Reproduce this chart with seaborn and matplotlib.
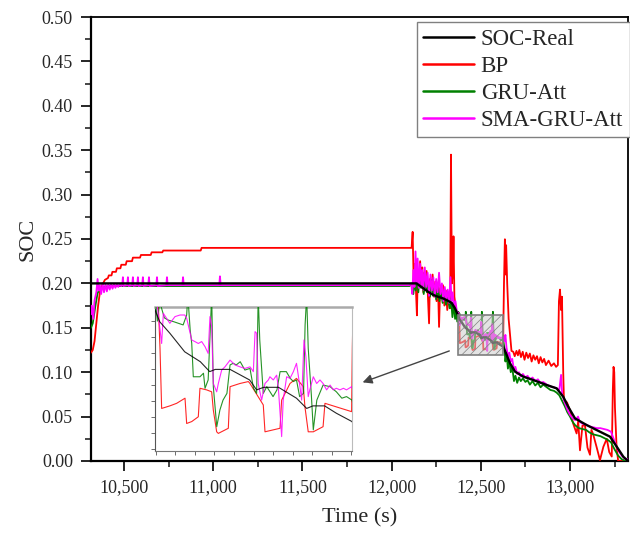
import matplotlib
matplotlib.use("Agg")
import matplotlib.pyplot as plt
from matplotlib.patches import Rectangle
from matplotlib.ticker import MultipleLocator, FuncFormatter
import seaborn as sns

# SOC-Real
real_t = [10315, 12140, 12160, 12178, 12205, 12234, 12260, 12290, 12315, 12337, 12355,
          12374, 12380, 12393, 12412, 12432, 12444, 12451, 12470, 12495, 12504, 12513,
          12532, 12555, 12568, 12576, 12591, 12606, 12626, 12640, 12664, 12692, 12738,
          12794, 12869, 12925, 12962, 12990, 13028, 13093, 13168, 13224, 13262, 13299, 13325]
real_soc = [0.200, 0.200, 0.197, 0.1945, 0.1905, 0.187, 0.185, 0.183, 0.1805, 0.178, 0.172,
            0.1635, 0.1598, 0.1562, 0.1504, 0.1473, 0.1442, 0.1449, 0.1449, 0.1416, 0.1385, 0.1393,
            0.1393, 0.1359, 0.1327, 0.1335, 0.1335, 0.1312, 0.1286, 0.122, 0.110, 0.1006, 0.095,
            0.0912, 0.0856, 0.0818, 0.0724, 0.0611, 0.048, 0.0405, 0.033, 0.0274, 0.0161, 0.0048, 0.0]

# BP
bp_t = [10315, 10325, 10335, 10345, 10355, 10365, 10378, 10393, 10410, 10415, 10430, 10435,
        10455, 10460, 10480, 10485, 10510, 10515, 10545, 10550, 10590, 10595, 10650, 10655,
        10715, 10720, 10930, 10935, 12112, 12118, 12124, 12130, 12136, 12142, 12147, 12153,
        12160, 12166, 12172, 12178, 12184, 12190, 12196, 12203, 12210, 12215, 12222, 12230,
        12238, 12245, 12252, 12260, 12266, 12272, 12280, 12288, 12296, 12304, 12312, 12320,
        12328, 12333, 12338, 12344, 12347, 12352, 12358, 12364, 12370,
        12374, 12378, 12380.4, 12382.5, 12393, 12401.7, 12412.4, 12414.5, 12421, 12429.4,
        12431.5, 12440, 12446.5, 12448.6, 12452.9, 12455, 12467.8, 12470, 12482.7, 12493.4,
        12495.5, 12512.5, 12514.7, 12533.9, 12536, 12546.7, 12555, 12563.7, 12565.8, 12570,
        12576.5, 12589, 12591.4, 12606, 12625.5, 12626.4,
        12630, 12635, 12639, 12642, 12648, 12656, 12664, 12672, 12682, 12690, 12700, 12708,
        12716, 12725, 12735, 12745, 12755, 12765, 12775, 12785, 12795, 12805, 12815, 12825,
        12835, 12845, 12855, 12865, 12880, 12895, 12910, 12922, 12932, 12938, 12944, 12950,
        12955, 12962, 12966, 12983, 13000, 13018, 13037, 13046, 13056, 13070, 13084, 13098,
        13112, 13120, 13130, 13150, 13168, 13187, 13206, 13220, 13234, 13240, 13244, 13248,
        13252, 13261, 13270, 13325]
bp_soc = [0.122, 0.125, 0.135, 0.155, 0.175, 0.190, 0.198, 0.204, 0.206, 0.209, 0.209, 0.213,
          0.213, 0.217, 0.217, 0.221, 0.221, 0.225, 0.225, 0.229, 0.229, 0.232, 0.232, 0.235,
          0.235, 0.237, 0.237, 0.240, 0.240, 0.258, 0.200, 0.222, 0.195, 0.164, 0.215, 0.205,
          0.225, 0.200, 0.218, 0.190, 0.212, 0.196, 0.214, 0.188, 0.155, 0.205, 0.192, 0.210,
          0.185, 0.202, 0.180, 0.198, 0.151, 0.195, 0.185, 0.198, 0.175, 0.192, 0.170, 0.188,
          0.172, 0.345, 0.200, 0.215, 0.253, 0.185, 0.175, 0.168, 0.160,
          0.1666, 0.1666, 0.1515, 0.1327, 0.1335, 0.1343, 0.1359, 0.1280, 0.1286, 0.1301,
          0.1390, 0.1385, 0.1379, 0.1322, 0.1254, 0.1249, 0.1265, 0.1395, 0.1405, 0.1411,
          0.1405, 0.1338, 0.1254, 0.1265, 0.1353, 0.1405, 0.1421, 0.1395, 0.1332, 0.1254,
          0.1254, 0.1270, 0.1343, 0.1332, 0.1317, 0.1515,
          0.200, 0.2497, 0.210, 0.243, 0.200, 0.160, 0.142, 0.124, 0.123, 0.118, 0.124, 0.119,
          0.125, 0.117, 0.123, 0.114, 0.122, 0.116, 0.121, 0.112, 0.119, 0.114, 0.118, 0.110,
          0.117, 0.111, 0.115, 0.108, 0.113, 0.107, 0.110, 0.106, 0.108, 0.180, 0.193, 0.170,
          0.185, 0.100, 0.069, 0.066, 0.057, 0.042, 0.031, 0.045, 0.012, 0.040, 0.040, 0.015,
          0.007, 0.035, 0.030, 0.015, 0.001, 0.016, 0.025, 0.010, 0.005, 0.080, 0.106, 0.100,
          0.060, 0.016, 0.0, 0.0]

# GRU-Att
gru_t = [10315, 10325, 10340, 10352, 10365, 10380, 10420, 12100, 12115, 12122, 12128, 12135,
         12142, 12150, 12158, 12165, 12172, 12180, 12190, 12198, 12206, 12215, 12224, 12232,
         12240, 12250, 12258, 12268, 12276, 12286, 12295, 12305, 12315, 12325, 12333, 12341,
         12348, 12356, 12362, 12368,
         12374, 12377, 12380, 12386, 12391, 12398, 12404, 12410, 12414.5, 12416, 12419, 12421,
         12423, 12431.5, 12436, 12438, 12442, 12446.5, 12448.6, 12453, 12457, 12461, 12466,
         12470, 12474, 12478, 12483, 12489, 12495.5, 12500, 12504, 12506, 12508, 12512.5,
         12517, 12525, 12530, 12534, 12542, 12547, 12551, 12555, 12559, 12564, 12566, 12568,
         12570, 12574, 12576.5, 12581, 12589, 12598, 12606, 12613, 12619, 12626,
         12632, 12638, 12644, 12652, 12660, 12668, 12676, 12686, 12694, 12704, 12714, 12724,
         12736, 12750, 12762, 12775, 12790, 12805, 12820, 12835, 12850, 12870, 12890, 12910,
         12925, 12940, 12955, 12970, 12985, 13000, 13015, 13030, 13050, 13070, 13090, 13110,
         13130, 13150, 13170, 13190, 13210, 13230, 13250, 13270, 13290, 13310, 13325]
gru_soc = [0.150, 0.155, 0.175, 0.189, 0.194, 0.196, 0.197, 0.197, 0.199, 0.188, 0.205, 0.192,
           0.210, 0.190, 0.215, 0.195, 0.205, 0.188, 0.207, 0.190, 0.200, 0.185, 0.204, 0.186,
           0.198, 0.182, 0.196, 0.180, 0.193, 0.178, 0.190, 0.176, 0.187, 0.172, 0.183, 0.162,
           0.178, 0.160, 0.170, 0.157,
           0.168, 0.160, 0.166, 0.161, 0.1603, 0.1598, 0.1593, 0.1588, 0.1619, 0.168, 0.1572, 0.1530,
           0.1426, 0.1426, 0.1437, 0.1390, 0.1416, 0.168, 0.1395, 0.1270, 0.1322, 0.1353, 0.1374,
           0.1463, 0.1468, 0.1463, 0.1473, 0.1447, 0.1452, 0.1390, 0.1374, 0.168, 0.1541, 0.1374,
           0.1395, 0.1364, 0.1385, 0.1442, 0.1442, 0.1421, 0.1411, 0.1416, 0.1364, 0.1374, 0.1588, 0.168,
           0.1515, 0.1369, 0.1260, 0.1353, 0.1400, 0.1395, 0.1379, 0.1359, 0.1364, 0.1353,
           0.128, 0.112, 0.122, 0.104, 0.112, 0.100, 0.106, 0.090, 0.096, 0.088, 0.094, 0.090,
           0.093, 0.089, 0.091, 0.086, 0.090, 0.085, 0.088, 0.083, 0.086, 0.083, 0.080, 0.079,
           0.077, 0.074, 0.068, 0.062, 0.055, 0.050, 0.044, 0.040, 0.037, 0.036, 0.035, 0.032,
           0.030, 0.029, 0.028, 0.026, 0.024, 0.021, 0.013, 0.006, 0.002, 0.0, 0.0]

# SMA-GRU-Att
sma_t = [10315, 10320, 10328, 10335, 10345, 10352, 10358, 10365, 10372, 10380, 10388, 10396,
         10404, 10412, 10420, 10428, 10436, 10444, 10452, 10460, 10468, 10476, 10484, 10490,
         10494, 10498, 10518, 10522, 10526, 10546, 10550, 10554, 10574, 10578, 10582, 10602,
         10606, 10610, 10636, 10640, 10644, 10681, 10685, 10689, 10737, 10741, 10745, 10827,
         10831, 10835, 11034, 11038, 11042, 12100,
         12110, 12116, 12122, 12128, 12134, 12140, 12146, 12152, 12160, 12166, 12172, 12178,
         12186, 12194, 12202, 12210, 12218, 12226, 12234, 12242, 12250, 12258, 12266, 12274,
         12282, 12290, 12298, 12306, 12314, 12322, 12330, 12336, 12342, 12350, 12358, 12366,
         12376, 12382.5, 12384.7, 12393, 12399.6, 12406, 12412, 12414.5, 12421, 12425, 12429.4,
         12433.7, 12438, 12442, 12444.3, 12446.5, 12448.6, 12452.9, 12455, 12459.3, 12463.5,
         12470, 12476.3, 12482.7, 12489, 12495.5, 12499.8, 12502, 12504, 12506, 12510.4,
         12514.7, 12519, 12521, 12525.3, 12529.6, 12531.7, 12536, 12538, 12542.4, 12546.7,
         12551, 12555, 12559.4, 12561.6, 12564.6, 12567, 12570, 12572, 12576.5, 12580.8, 12585,
         12589, 12593.5, 12598, 12602, 12606, 12610.6, 12615, 12619, 12625.5,
         12632, 12638, 12644, 12652, 12660, 12668, 12676, 12686, 12694, 12704, 12714, 12724,
         12736, 12750, 12762, 12775, 12790, 12805, 12820, 12835, 12850, 12870, 12890, 12910,
         12925, 12940, 12950, 12956, 12970, 12985, 13000, 13015, 13030, 13045, 13055, 13070,
         13090, 13110, 13130, 13150, 13170, 13190, 13210, 13230, 13250, 13270, 13290, 13310, 13325]
sma_soc = [0.165, 0.175, 0.160, 0.181, 0.190, 0.205, 0.192, 0.198, 0.188, 0.200, 0.190, 0.199,
           0.191, 0.199, 0.193, 0.199, 0.194, 0.199, 0.195, 0.199, 0.196, 0.199, 0.197, 0.198,
           0.207, 0.197, 0.198, 0.207, 0.197, 0.198, 0.207, 0.197, 0.198, 0.207, 0.197, 0.198,
           0.207, 0.197, 0.198, 0.207, 0.197, 0.198, 0.207, 0.197, 0.198, 0.207, 0.198, 0.198,
           0.207, 0.198, 0.198, 0.208, 0.198, 0.198,
           0.200, 0.188, 0.215, 0.196, 0.236, 0.200, 0.228, 0.195, 0.222, 0.198, 0.215, 0.193,
           0.218, 0.196, 0.212, 0.186, 0.210, 0.192, 0.207, 0.185, 0.205, 0.190, 0.212, 0.188,
           0.200, 0.180, 0.196, 0.182, 0.193, 0.178, 0.207, 0.180, 0.190, 0.175, 0.180, 0.168,
           0.1666, 0.1530, 0.1624, 0.1593, 0.1614, 0.1619, 0.1619, 0.1609, 0.1541, 0.1536, 0.1530,
           0.1536, 0.1520, 0.1499, 0.1614, 0.1583, 0.1405, 0.1379, 0.1405, 0.1447, 0.1457,
           0.1478, 0.1463, 0.1457, 0.1452, 0.1457, 0.1442, 0.1567, 0.1562, 0.1405, 0.1353,
           0.1405, 0.1416, 0.1426, 0.1416, 0.1431, 0.1395, 0.1239, 0.1353, 0.1426, 0.1421,
           0.1442, 0.1468, 0.1395, 0.1353, 0.1541, 0.1489, 0.1364, 0.1385, 0.1426, 0.1405, 0.1416,
           0.1405, 0.1385, 0.1400, 0.1385, 0.1390, 0.1385, 0.1390, 0.1385, 0.1395,
           0.135, 0.142, 0.128, 0.118, 0.122, 0.112, 0.115, 0.103, 0.106, 0.098, 0.100, 0.095,
           0.098, 0.094, 0.096, 0.092, 0.094, 0.090, 0.092, 0.088, 0.089, 0.086, 0.084, 0.083,
           0.082, 0.080, 0.097, 0.075, 0.066, 0.058, 0.052, 0.048, 0.046, 0.050, 0.044, 0.042,
           0.041, 0.039, 0.038, 0.037, 0.037, 0.036, 0.035, 0.033, 0.022, 0.012, 0.006, 0.002, 0.002]

series = [("SOC-Real", real_t, real_soc, "black", 5),
          ("BP", bp_t, bp_soc, "#ff0000", 3),
          ("GRU-Att", gru_t, gru_soc, "#008000", 3.5),
          ("SMA-GRU-Att", sma_t, sma_soc, "#ff00ff", 4)]

# zoomed window shown in the inset
box_t0, box_t1 = 12374, 12626
box_s0, box_s1 = 0.1194, 0.1644

sns.set_style("ticks")
plt.rcParams["font.family"] = ["Liberation Serif", "DejaVu Serif"]

fig = plt.figure(figsize=(6.3, 5.33), dpi=100)
ax = fig.add_axes([0.1444, 0.1351, 0.8524, 0.833])

for name, t, s, c, z in series:
    lw = 1.7 if name == "SOC-Real" else 1.3
    sns.lineplot(x=t, y=s, ax=ax, color=c, lw=lw, label=name, zorder=z,
                 estimator=None, sort=False)

ax.set_xlim(10315, 13325)
ax.set_ylim(0, 0.5)
ax.xaxis.set_major_locator(MultipleLocator(500))
ax.xaxis.set_minor_locator(MultipleLocator(250))
ax.yaxis.set_major_locator(MultipleLocator(0.05))
ax.yaxis.set_minor_locator(MultipleLocator(0.025))
ax.xaxis.set_major_formatter(FuncFormatter(lambda v, p: f"{v:,.0f}"))
ax.yaxis.set_major_formatter(FuncFormatter(lambda v, p: f"{v:.2f}"))
ax.tick_params(which="major", direction="out", length=7, width=1.4, labelsize=13, pad=6,
               top=False, right=False)
ax.tick_params(which="minor", direction="out", length=4, width=1.2, top=False, right=False)
for sp in ax.spines.values():
    sp.set_color("black")
    sp.set_linewidth(1.3)
ax.spines["left"].set_linewidth(1.6)
ax.spines["bottom"].set_linewidth(1.6)
ax.set_xlabel("Time (s)", fontsize=16, labelpad=9)
ax.set_ylabel("SOC", fontsize=16, labelpad=3)

leg = ax.legend(loc="upper right", bbox_to_anchor=(1.0, 0.958), bbox_transform=fig.transFigure,
                borderaxespad=0, fontsize=16.5, frameon=True, fancybox=False, framealpha=1,
                handlelength=2.2, handletextpad=0.3, labelspacing=0.25, borderpad=0.3)
leg.get_frame().set_edgecolor("#808080")
leg.get_frame().set_linewidth(1.0)
for h in leg.get_lines():
    h.set_linewidth(1.8)

plt.rcParams["hatch.linewidth"] = 0.5
ax.add_patch(Rectangle((box_t0, box_s0), box_t1 - box_t0, box_s1 - box_s0,
                       facecolor=(0.8, 0.8, 0.8, 0.55), edgecolor="#7f7f7f", hatch="////",
                       lw=1.2, zorder=6))

ax.annotate("", xy=(11823, 0.0875), xytext=(12338, 0.125),
            arrowprops=dict(arrowstyle="-|>", color="#444444", lw=1.0, mutation_scale=14),
            zorder=7)

# inset with the zoomed window
ax_in = fig.add_axes([155 / 630, 1 - 451 / 533, 197 / 630, 144 / 533])
for name, t, s, c, z in series:
    sns.lineplot(x=t, y=s, ax=ax_in, color=c, lw=0.8, zorder=z, estimator=None,
                 sort=False, legend=False, alpha=0.85)
ax_in.set_xlim(box_t0, box_t1)
ax_in.set_ylim(box_s0, box_s1)
ax_in.xaxis.set_major_locator(MultipleLocator(25))
ax_in.yaxis.set_major_locator(MultipleLocator(0.005))
ax_in.tick_params(direction="out", length=3, width=0.6, color="#555555",
                  labelbottom=False, labelleft=False)
ax_in.set_xlabel("")
ax_in.set_ylabel("")
ax_in.spines["left"].set_color("#555555")
ax_in.spines["bottom"].set_color("#777777")
ax_in.spines["top"].set_color("#aaaaaa")
ax_in.spines["top"].set_linewidth(1.8)
ax_in.spines["right"].set_color("#bbbbbb")
for k in ("left", "bottom", "right"):
    ax_in.spines[k].set_linewidth(0.8)

fig.savefig("out.png", dpi=100)
